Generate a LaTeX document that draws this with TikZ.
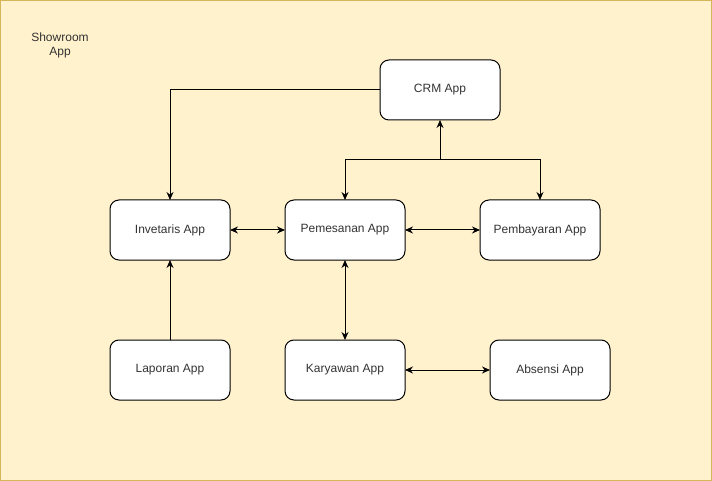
\documentclass[tikz,border=0pt]{standalone}
\usepackage{fontspec}
\setmainfont{Liberation Sans}
\usetikzlibrary{arrows.meta, positioning}
\definecolor{bgfill}{HTML}{FFF2CC}
\definecolor{bgline}{HTML}{D6B656}
\definecolor{txt}{HTML}{333333}
\tikzset{larrow/.style = {-{Stealth[length=8pt,width=7pt]}},
         dlarrow/.style = {{Stealth[length=8pt,width=7pt]}-{Stealth[length=8pt,width=7pt]}},
         app/.style = {draw, fill=white, rounded corners=9pt, minimum width=120pt,
                       minimum height=60pt, outer sep=0pt, text=txt,
                       font=\fontsize{12}{14}\selectfont}}

\begin{document}
\begin{tikzpicture}[x=1pt, y=-1pt, line width=1pt]
    \useasboundingbox (0,0) rectangle (712,481);
    \draw[fill=bgfill, draw=bgline] (0.5,0.5) rectangle (711.5,480.5);
    \node[text=txt, font=\fontsize{12}{14}\selectfont, align=center] (title) at (60,45) {Showroom\\App};

    \node[app] (crm) at (440,90) {CRM App};
    \node[app] (inv) at (170,230) {Invetaris App};
    \node[app] (pem) [right=55pt of inv] {Pemesanan App};
    \node[app] (pemb) [right=75pt of pem] {Pembayaran App};
    \node[app] (lap) [below=80pt of inv] {Laporan App};
    \node[app] (kar) [below=80pt of pem] {Karyawan App};
    \node[app] (abs) [right=85pt of kar] {Absensi App};
    \coordinate (split) at ([yshift=-40pt]crm.south);

    \draw[larrow] (crm.west) -| (inv.north);
    \draw[dlarrow] (pem.north) |- (split) -- (crm.south);
    \draw[larrow] (split) -| (pemb.north);
    \draw[dlarrow] (inv) -- (pem);
    \draw[dlarrow] (pem) -- (pemb);
    \draw[dlarrow] (pem) -- (kar);
    \draw[dlarrow] (kar) -- (abs);
    \draw[larrow] (lap) -- (inv);
\end{tikzpicture}
\end{document}
